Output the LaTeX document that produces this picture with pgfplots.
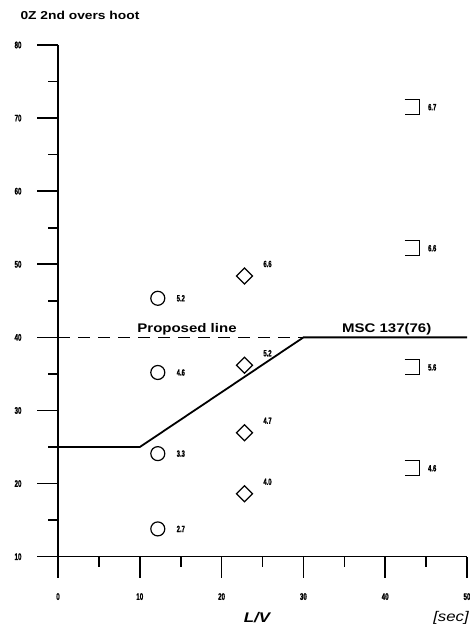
\documentclass[border=0pt]{standalone}
\usepackage{fontspec}
\setmainfont{Liberation Sans}
\newfontfamily\widefont[FakeStretch=1.2]{Liberation Sans}
\newfontfamily\condfont[FakeStretch=0.65,FakeBold=1.5]{Liberation Sans Bold}
\usepackage{pgfplots}
\pgfplotsset{compat=1.18}
\usepackage{pgfplotstable}

\pgfdeclareplotmark{bracket}{%
  \pgfpathmoveto{\pgfqpoint{-\pgfplotmarksize}{\pgfplotmarksize}}%
  \pgfpathlineto{\pgfqpoint{\pgfplotmarksize}{\pgfplotmarksize}}%
  \pgfpathlineto{\pgfqpoint{\pgfplotmarksize}{-\pgfplotmarksize}}%
  \pgfpathlineto{\pgfqpoint{-\pgfplotmarksize}{-\pgfplotmarksize}}%
  \pgfusepathqstroke}

\pgfplotstableread{
x y lab
12.2 45.35 5.2
12.2 35.2 4.6
12.2 24.1 3.3
12.2 13.8 2.7
}\circdata
\pgfplotstableread{
x y lab
22.8 48.4 6.6
22.8 36.2 5.2
22.8 26.95 4.7
22.8 18.6 4.0
}\diamdata
\pgfplotstableread{
x y lab
43.3 71.5 6.7
43.3 52.2 6.6
43.3 35.9 5.6
43.3 22.1 4.6
}\sqdata

\begin{document}
\begin{tikzpicture}
\useasboundingbox (0,0) rectangle (469pt,628pt);
\begin{axis}[
  at={(58pt,71.3pt)}, anchor=south west,
  scale only axis, width=409pt, height=511.7pt,
  xmin=0, xmax=50, ymin=10, ymax=80,
  axis lines=left, axis line style={-, line width=1.6pt},
  tick align=outside, major tick length=21pt, minor tick length=10pt,
  every tick/.style={black, line width=1.6pt},
  xtick={0,10,...,50}, ytick={10,20,...,80}, minor tick num=1,
  /pgf/number format/assume math mode=true,
  tick label style={font=\condfont\fontsize{9.5}{10}\selectfont},
  xticklabel style={yshift=-12pt},
  yticklabel style={xshift=-12pt},
  clip=false,
  point meta=explicit symbolic,
]
\addplot[black, line width=1.8pt] coordinates {(0,25)(10,25)(30,40)(50,40)};
\addplot[black, line width=1.6pt, dash pattern=on 12pt off 8pt] coordinates {(0,40)(30,40)};
\addplot[only marks, mark=o, mark size=7pt, mark options={line width=1.2pt, black},
  nodes near coords, every node near coord/.append style={anchor=center, xshift=23pt, yshift=0pt, font=\condfont\fontsize{9}{9}\selectfont}]
  table[meta=lab] {\circdata};
\addplot[only marks, mark=square, mark size=5.66pt, mark options={line width=1.2pt, black, rotate=45},
  nodes near coords, every node near coord/.append style={anchor=center, xshift=23pt, yshift=12pt, font=\condfont\fontsize{9}{9}\selectfont}]
  table[meta=lab] {\diamdata};
\addplot[only marks, mark=bracket, mark size=7.5pt, mark options={line width=1.2pt, black},
  nodes near coords, every node near coord/.append style={anchor=center, xshift=20pt, yshift=0pt, font=\condfont\fontsize{9}{9}\selectfont}]
  table[meta=lab] {\sqdata};
\end{axis}
\node[anchor=base west, font=\widefont\bfseries\fontsize{11.5}{13}\selectfont] at (17pt,608pt) {0Z 2nd overs hoot};
\node[anchor=base, font=\widefont\bfseries\fontsize{12.5}{14}\selectfont] at (187pt,295.3pt) {Proposed line};
\node[anchor=base, font=\widefont\bfseries\fontsize{12.5}{14}\selectfont] at (386.7pt,295.3pt) {MSC 137(76)};
\node[anchor=center, font=\widefont\bfseries\itshape\fontsize{14}{16}\selectfont] at (257pt,10pt) {L/V};
\node[anchor=center, font=\widefont\itshape\fontsize{14}{16}\selectfont] at (451pt,10pt) {[sec]};
\end{tikzpicture}
\end{document}
